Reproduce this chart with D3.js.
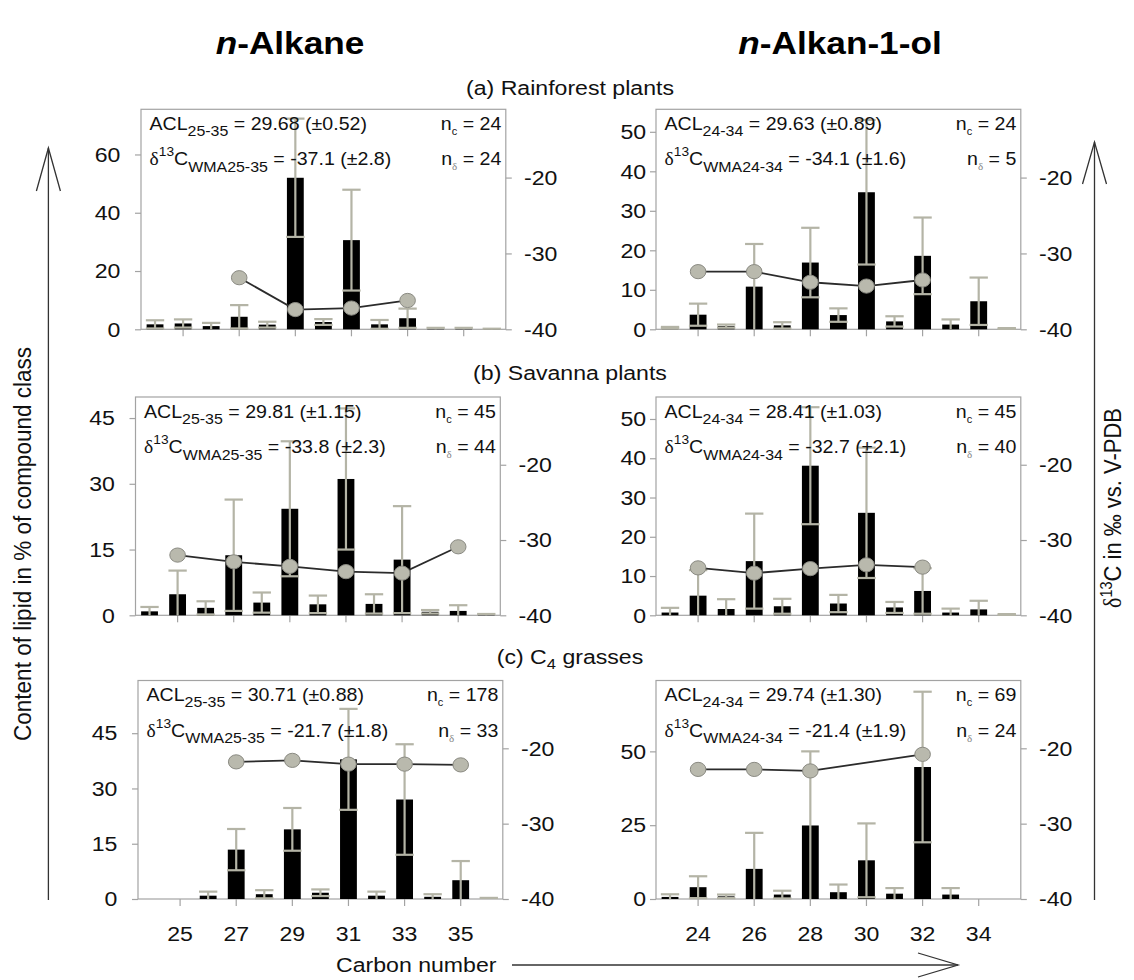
<!DOCTYPE html>
<html><head><meta charset="utf-8">
<script src="https://cdn.jsdelivr.net/npm/d3@7"></script>
<style>
body{margin:0;background:#fff;}
svg{display:block;font-family:"Liberation Sans",Arial,sans-serif;}
</style></head><body>
<svg id="chart" width="1134" height="980"></svg>
<script>
// ---------------- DATA ----------------
const alkaneCarbons  = [24,25,26,27,28,29,30,31,32,33,34,35,36];
const alkanolCarbons = [23,24,25,26,27,28,29,30,31,32,33,34,35];
const alkaneTicks  = [25,27,29,31,33,35];
const alkanolTicks = [24,26,28,30,32,34];

// (a) Rainforest plants
const rainAlkaneMean = [1.7,2.0,1.1,4.3,1.6,52.0,2.5,30.6,1.7,3.8,0.2,0.2,0.1];
const rainAlkaneSD   = [1.4,1.4,1.1,4.0,1.0,20.3,1.0,17.3,1.5,3.3,0.3,0.3,0.1];
const rainAlkaneDC   = [27,29,31,33];
const rainAlkaneD13C = [-33.2,-37.4,-37.2,-36.2];

const rainAlkanolMean = [0.4,3.7,0.8,10.8,1.0,16.9,3.6,34.7,2.0,18.6,1.2,7.1,0.2];
const rainAlkanolSD   = [0.2,2.8,0.4,10.8,0.8,8.8,1.7,18.3,1.3,9.7,1.3,6.0,0.1];
const rainAlkanolDC   = [24,26,28,30,32];
const rainAlkanolD13C = [-32.4,-32.4,-33.8,-34.3,-33.5];

// (b) Savanna plants
const savAlkaneMean = [0.9,4.8,1.7,13.7,2.9,24.3,2.5,31.1,2.6,12.7,0.8,1.0,0.1];
const savAlkaneSD   = [1.0,5.4,1.5,12.7,2.3,15.4,2.0,16.1,2.2,12.2,0.4,1.3,0.2];
const savAlkaneDC   = [25,27,29,31,33,35];
const savAlkaneD13C = [-32.0,-32.9,-33.5,-34.2,-34.4,-30.9];

const savAlkanolMean = [0.7,5.0,1.6,13.8,2.3,38.1,3.0,26.1,2.0,6.2,0.7,1.5,0.2];
const savAlkanolSD   = [1.2,6.5,2.5,12.1,1.9,14.9,2.2,16.6,1.4,5.8,1.0,2.2,0.1];
const savAlkanolDC   = [24,26,28,30,32];
const savAlkanolD13C = [-33.7,-34.4,-33.8,-33.3,-33.6];

// (c) C4 grasses
const c4AlkaneMean = [null,null,0.9,13.4,1.3,18.9,1.7,37.9,0.9,27.0,0.6,5.1,0.1];
const c4AlkaneSD   = [null,null,1.1,5.6,1.1,5.8,0.9,13.7,1.1,15.0,0.7,5.2,0.2];
const c4AlkaneDC   = [27,29,31,33,35];
const c4AlkaneD13C = [-21.8,-21.6,-22.1,-22.1,-22.2];

const c4AlkanolMean = [0.7,4.0,0.9,10.2,1.5,24.9,2.3,13.1,1.8,44.7,1.5,null,null];
const c4AlkanolSD   = [0.9,3.7,0.6,12.2,1.3,25.1,2.6,12.5,1.9,25.5,2.2,null,null];
const c4AlkanolDC   = [24,26,28,32];
const c4AlkanolD13C = [-22.8,-22.8,-23.0,-20.8];

// annotation texts (order: a-left, a-right, b-left, b-right, c-left, c-right)
const aclRange  = ["25-35","24-34","25-35","24-34","25-35","24-34"];
const aclValues = ["29.68 (±0.52)","29.63 (±0.89)","29.81 (±1.15)","28.41 (±1.03)","30.71 (±0.88)","29.74 (±1.30)"];
const d13cValues = ["-37.1 (±2.8)","-34.1 (±1.6)","-33.8 (±2.3)","-32.7 (±2.1)","-21.7 (±1.8)","-21.4 (±1.9)"];
const ncValues = [24,24,45,45,178,69];
const ndValues = [24,5,44,40,33,24];
const leftTicks = [[0,20,40,60],[0,10,20,30,40,50],[0,15,30,45],[0,10,20,30,40,50],[0,15,30,45],[0,25,50]];
const rightTicks = [-40,-30,-20];
const leftMax = [75.5,55.7,49.8,55.6,59.3,74.0];
const rightDomain = [-40,-11];
const groupTitles = ["(a) Rainforest plants","(b) Savanna plants","(c) C"];

// ---------------- LAYOUT ----------------
const SX = 1.1;           // horizontal stretch of the original lettering
const FRAME = "#a3a3a3";
const ERR = "#b4b4a6";
const DOTFILL = "#b9b9ad";
const DOTSTROKE = "#8a8a82";
const PW = 364.8;
const layout = [
  {x0:141,   top:109.3, bot:329.3},
  {x0:656,   top:109.3, bot:329.3},
  {x0:135.5, top:397,   bot:615.3},
  {x0:656,   top:397,   bot:615.3},
  {x0:138,   top:680.5, bot:899},
  {x0:656,   top:680.5, bot:899}
];
const panels = [
  {carbons:alkaneCarbons,  ticks:alkaneTicks,  mean:rainAlkaneMean,  sd:rainAlkaneSD,  dc:rainAlkaneDC,  d:rainAlkaneD13C},
  {carbons:alkanolCarbons, ticks:alkanolTicks, mean:rainAlkanolMean, sd:rainAlkanolSD, dc:rainAlkanolDC, d:rainAlkanolD13C},
  {carbons:alkaneCarbons,  ticks:alkaneTicks,  mean:savAlkaneMean,   sd:savAlkaneSD,   dc:savAlkaneDC,   d:savAlkaneD13C},
  {carbons:alkanolCarbons, ticks:alkanolTicks, mean:savAlkanolMean,  sd:savAlkanolSD,  dc:savAlkanolDC,  d:savAlkanolD13C},
  {carbons:alkaneCarbons,  ticks:alkaneTicks,  mean:c4AlkaneMean,    sd:c4AlkaneSD,    dc:c4AlkaneDC,    d:c4AlkaneD13C},
  {carbons:alkanolCarbons, ticks:alkanolTicks, mean:c4AlkanolMean,   sd:c4AlkanolSD,   dc:c4AlkanolDC,   d:c4AlkanolD13C}
];

const svg = d3.select("#chart");
svg.append("rect").attr("width",1134).attr("height",980).attr("fill","#fff");

function txt(parent, x, y, size, anchor){
  return parent.append("text")
    .attr("transform", `translate(${x},${y}) scale(${SX},1)`)
    .attr("text-anchor", anchor || "start")
    .attr("font-size", size)
    .attr("fill", "#111");
}
function styleAxis(ax){
  ax.select(".domain").remove();
  ax.selectAll("line").attr("stroke", FRAME).attr("stroke-width", 1.2);
  ax.selectAll("text").attr("font-size", 21).attr("fill", "#111")
    .attr("font-family", '"Liberation Sans",Arial,sans-serif')
    .attr("transform", `scale(${SX},1)`);
}
const plain = d => String(d);   // hyphen-minus like the original

panels.forEach((p, i) => {
  const L = layout[i];
  const col = i % 2;
  const g = svg.append("g");
  const x = d3.scaleBand().domain(p.carbons).range([L.x0, L.x0 + PW]).paddingInner(0.4).paddingOuter(0.2);
  const y = d3.scaleLinear().domain([0, leftMax[i]]).range([L.bot, L.top]);
  const y2 = d3.scaleLinear().domain(rightDomain).range([L.bot, L.top]);
  const bw = x.bandwidth();
  const cx = c => x(c) + bw / 2;

  // frame
  g.append("rect").attr("x", L.x0).attr("y", L.top).attr("width", PW).attr("height", L.bot - L.top)
    .attr("fill", "none").attr("stroke", FRAME).attr("stroke-width", 1.2);

  // axes
  const axL = g.append("g").attr("transform", `translate(${L.x0},0)`)
    .call(d3.axisLeft(y).tickValues(leftTicks[i]).tickSize(6).tickPadding(col ? 3 : 12.8).tickFormat(plain));
  styleAxis(axL);
  const axR = g.append("g").attr("transform", `translate(${L.x0 + PW},0)`)
    .call(d3.axisRight(y2).tickValues(rightTicks).tickSize(6).tickPadding(10.5).tickFormat(plain));
  styleAxis(axR);
  const axB = g.append("g").attr("transform", `translate(0,${L.bot})`)
    .call(d3.axisBottom(x).tickValues(p.ticks).tickSize(7).tickPadding(20)
      .tickFormat(i >= 4 ? plain : () => ""));
  styleAxis(axB);

  // bars
  const rows = p.carbons.map((c, k) => ({c, m: p.mean[k], s: p.sd[k]})).filter(d => d.m != null && d.m > 0);
  g.selectAll("rect.bar").data(rows).join("rect").attr("class", "bar")
    .attr("x", d => x(d.c)).attr("width", bw)
    .attr("y", d => y(d.m)).attr("height", d => y(0) - y(d.m))
    .attr("fill", "#000");

  // error bars
  const capW = bw + 1.5;
  const eg = g.append("g").attr("stroke", ERR).attr("stroke-width", 2.2).attr("fill", "none");
  rows.forEach(d => {
    const hi = d.m + d.s, lo = Math.max(0, d.m - d.s);
    eg.append("line").attr("x1", cx(d.c)).attr("x2", cx(d.c)).attr("y1", y(lo)).attr("y2", y(hi));
    eg.append("line").attr("x1", cx(d.c) - capW/2).attr("x2", cx(d.c) + capW/2).attr("y1", y(hi)).attr("y2", y(hi));
    if (lo > 0.05) eg.append("line").attr("x1", cx(d.c) - capW/2).attr("x2", cx(d.c) + capW/2).attr("y1", y(lo)).attr("y2", y(lo));
  });

  // delta 13C line + dots
  const pts = p.dc.map((c, k) => ({c, v: p.d[k]}));
  g.append("path").datum(pts)
    .attr("d", d3.line().x(d => cx(d.c)).y(d => y2(d.v)))
    .attr("fill", "none").attr("stroke", "#2b2b2b").attr("stroke-width", 1.8);
  g.selectAll("ellipse").data(pts).join("ellipse")
    .attr("cx", d => cx(d.c)).attr("cy", d => y2(d.v)).attr("rx", 7.8).attr("ry", 7.1)
    .attr("fill", DOTFILL).attr("stroke", DOTSTROKE).attr("stroke-width", 1);

  // annotations
  const FS = 17.8, SUB = 14.5;
  const tx = L.x0 + 8.5, rx = L.x0 + PW - 4.5;
  const t1 = txt(g, tx, L.top + 20.7, FS);
  t1.append("tspan").text("ACL");
  t1.append("tspan").attr("font-size", SUB).attr("dy", 6).text(aclRange[i]);
  t1.append("tspan").attr("dy", -6).text(" = " + aclValues[i]);

  const t2 = txt(g, tx, L.top + 56, FS);
  t2.append("tspan").attr("font-family", '"Liberation Serif","Times New Roman",serif').text("δ");
  t2.append("tspan").attr("font-size", 12.5).attr("dy", -9).text("13");
  t2.append("tspan").attr("dy", 9).text("C");
  t2.append("tspan").attr("font-size", SUB).attr("dy", 6.5).text("WMA" + aclRange[i]);
  t2.append("tspan").attr("dy", -6.5).text(" = " + d13cValues[i]);

  const t3 = txt(g, rx, L.top + 20.7, FS, "end");
  t3.append("tspan").text("n");
  t3.append("tspan").attr("font-size", 10).attr("dy", 5).text("c");
  t3.append("tspan").attr("dy", -5).text(" = " + ncValues[i]);

  const t4 = txt(g, rx, L.top + 56, FS, "end");
  t4.append("tspan").text("n");
  t4.append("tspan").attr("font-size", 10).attr("dy", 5).attr("fill", "#888")
    .attr("font-family", '"Liberation Serif","Times New Roman",serif').text("δ");
  t4.append("tspan").attr("dy", -5).text(" = " + ndValues[i]);
});

// ---------------- TITLES ----------------
const tA = txt(svg, 290, 54, 32, "middle").attr("font-weight", "bold").attr("fill", "#000");
tA.append("tspan").attr("font-style", "italic").text("n");
tA.append("tspan").text("-Alkane");
const tB = txt(svg, 840, 54, 32, "middle").attr("font-weight", "bold").attr("fill", "#000");
tB.append("tspan").attr("font-style", "italic").text("n");
tB.append("tspan").text("-Alkan-1-ol");

txt(svg, 570, 95, 21, "middle").text(groupTitles[0]);
txt(svg, 570, 380, 21, "middle").text(groupTitles[1]);
const tc = txt(svg, 570, 664, 21, "middle");
tc.append("tspan").text(groupTitles[2]);
tc.append("tspan").attr("font-size", 15).attr("dy", 5).text("4");
tc.append("tspan").attr("dy", -5).text(" grasses");

// left axis title + arrow
svg.append("text").attr("transform", `translate(31,544) rotate(-90) scale(1,${SX})`)
  .attr("text-anchor", "middle").attr("font-size", 22.5).attr("fill", "#111")
  .text("Content of lipid in % of compound class");
const arrowG = svg.append("g").attr("stroke", "#333").attr("stroke-width", 1.3).attr("fill", "none");
arrowG.append("line").attr("x1", 48.4).attr("x2", 48.4).attr("y1", 148).attr("y2", 900);
arrowG.append("path").attr("d", "M36.4,191 L48.4,148 L60.4,191");

// right axis title + arrow
const rt = svg.append("text").attr("transform", `translate(1121,508) rotate(-90) scale(1,${SX})`)
  .attr("text-anchor", "middle").attr("font-size", 22).attr("fill", "#111");
rt.append("tspan").attr("font-family", '"Liberation Serif","Times New Roman",serif').text("δ");
rt.append("tspan").attr("font-size", 14.5).attr("dy", -8).text("13");
rt.append("tspan").attr("dy", 8).text("C in ‰ vs. V-PDB");
arrowG.append("line").attr("x1", 1094.5).attr("x2", 1094.5).attr("y1", 142).attr("y2", 900);
arrowG.append("path").attr("d", "M1082.5,184 L1094.5,142 L1106.5,184");

// bottom title + arrow
txt(svg, 336, 972, 21, "start").text("Carbon number");
arrowG.append("line").attr("x1", 512).attr("x2", 958).attr("y1", 965).attr("y2", 965);
arrowG.append("path").attr("d", "M918,953 L958,965 L918,977");
</script>
</body></html>
